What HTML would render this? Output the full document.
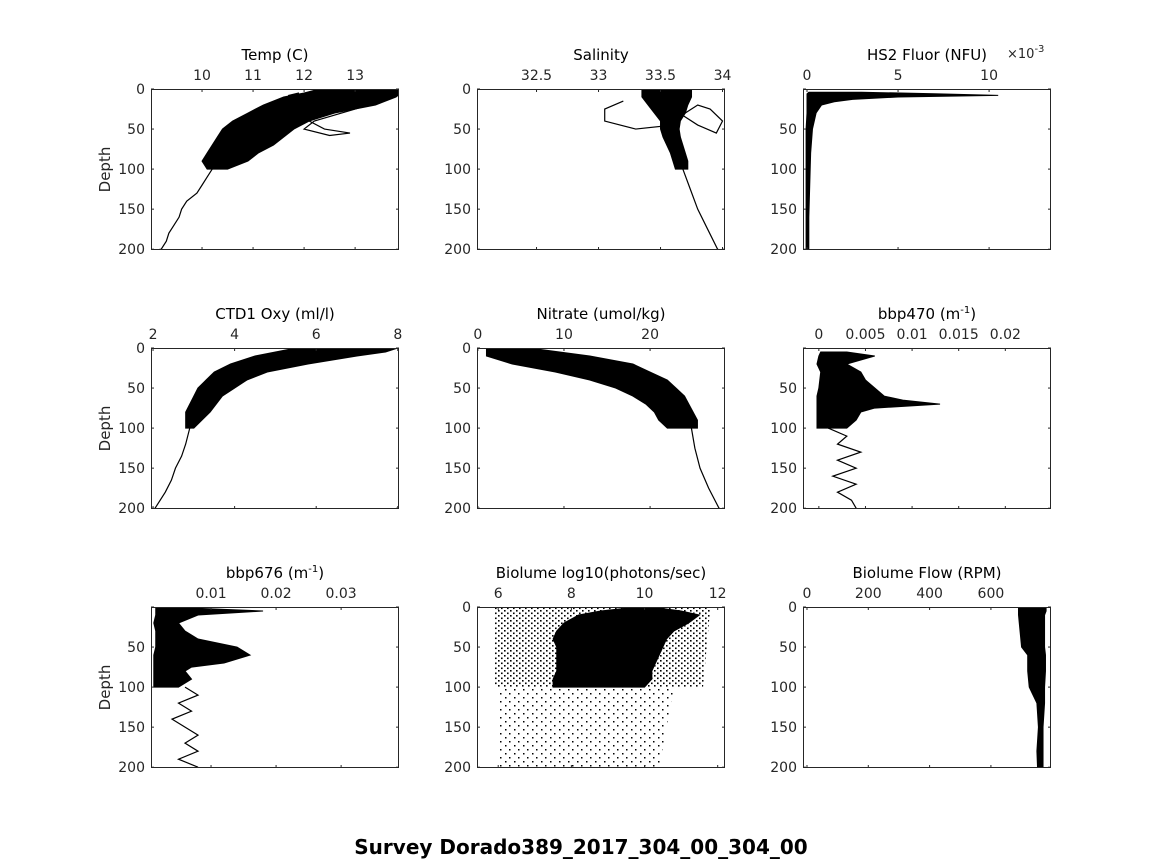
<!DOCTYPE html>
<html><head><meta charset="utf-8"><style>
html,body{margin:0;padding:0;background:#fff}
svg{display:block;font-family:"DejaVu Sans","Liberation Sans",sans-serif}
</style></head><body>
<svg id="fig" width="1164" height="864" viewBox="0 0 1164 864">
<defs>
<pattern id="sparse" width="6" height="5" patternUnits="userSpaceOnUse"><rect x="0" y="0" width="1.6" height="1.6" fill="#000"/><rect x="3" y="2.5" width="1.6" height="1.6" fill="#000"/></pattern>
<pattern id="vsparse" width="9" height="8" patternUnits="userSpaceOnUse"><rect x="1" y="1" width="1.5" height="1.5" fill="#000"/><rect x="5" y="5" width="1.5" height="1.5" fill="#000"/></pattern>
</defs>
<text x="581" y="854" text-anchor="middle" font-size="20" font-weight="bold">Survey Dorado389_2017_304_00_304_00</text>
</svg>
<script>
// ---- data arrays (depth in m, value in variable units) ----
const depthTicks=[0,50,100,150,200];
const tempTicks=[10,11,12,13];
const tempBandD=[0,5,10,20,30,40,50,60,70,80,90,100];
const tempBandLo=[12.3,12.0,11.6,11.2,10.9,10.6,10.4,10.3,10.2,10.1,10.0,10.1];
const tempBandHi=[13.9,13.9,13.8,13.4,12.6,12.1,11.8,11.6,11.4,11.1,10.9,10.5];
const tempLineD=[100,110,120,130,140,150,160,170,180,190,200,202];
const tempLineV=[10.2,10.1,10.0,9.9,9.7,9.6,9.55,9.45,9.35,9.3,9.2,9.0];
const tempLoopD=[5,8,20,40,50,55,58,50,40,25,15,10];
const tempLoopV=[11.9,11.7,11.8,12.1,12.4,12.9,12.5,12.0,12.2,13.0,13.5,13.6];
const salTicks=[32.5,33,33.5,34];
const salBandD=[0,10,20,30,40,50,60,70,80,90,100];
const salBandLo=[33.35,33.35,33.4,33.45,33.5,33.5,33.52,33.55,33.58,33.6,33.62];
const salBandHi=[33.75,33.75,33.72,33.7,33.66,33.65,33.66,33.68,33.7,33.72,33.72];
const salLineD=[100,125,150,175,200,202];
const salLineV=[33.68,33.74,33.8,33.88,33.96,33.99];
const salLoopD=[15,25,40,50,45,30,20,25,40,55,45,30];
const salLoopV=[33.2,33.05,33.05,33.3,33.6,33.7,33.8,33.9,34.0,33.95,33.8,33.65];
const fluTicks=[0,5,10];
const fluBandD=[4,6,8,10,13,16,20,30,50,80,120,160,200];
const fluBandLo=[0.1,0.0,0.0,0.0,0.0,0.0,0.0,0.0,-0.05,-0.05,-0.05,-0.05,-0.05];
const fluBandHi=[3.0,7.0,10.5,5.0,2.5,1.5,0.8,0.5,0.3,0.2,0.15,0.1,0.1];
const oxyTicks=[2,4,6,8];
const oxyBandD=[0,5,10,20,30,40,50,60,80,100];
const oxyBandLo=[5.5,5.0,4.5,3.9,3.5,3.3,3.1,3.0,2.8,2.8];
const oxyBandHi=[8.0,7.7,7.0,5.8,4.8,4.3,4.0,3.7,3.4,3.0];
const oxyLineD=[100,120,135,150,165,180,200,202];
const oxyLineV=[2.9,2.8,2.7,2.55,2.45,2.3,2.05,1.98];
const nitTicks=[0,10,20];
const nitBandD=[0,10,20,30,40,50,60,70,80,90,100];
const nitBandLo=[1,1,4,9,13,16,18,19.5,20.5,21,22];
const nitBandHi=[6,13,18,20,22,23,24,24.5,25,25.5,25.5];
const nitLineD=[100,125,150,175,200,202];
const nitLineV=[24.8,25.2,25.8,26.8,28.0,28.5];
const b470Ticks=[0,0.005,0.01,0.015,0.02];
const b470TickLbl=["0","0.005","0.01","0.015","0.02"];
const b470BandD=[5,10,20,30,40,50,60,65,70,75,80,90,100];
const b470BandLo=[0.0002,0.0,-0.0002,0.0002,0.0001,0.0,-0.0002,-0.0002,-0.0002,-0.0002,-0.0002,-0.0002,-0.0002];
const b470BandHi=[0.0030,0.0060,0.0030,0.0045,0.0050,0.0060,0.0070,0.0090,0.0130,0.0060,0.0045,0.0040,0.0030];
const b470LineD=[100,110,120,130,140,150,160,170,180,190,200];
const b470LineV=[0.0010,0.0030,0.0020,0.0045,0.0020,0.0040,0.0015,0.0040,0.0020,0.0035,0.0040];
const b676Ticks=[0.01,0.02,0.03];
const b676TickLbl=["0.01","0.02","0.03"];
const b676BandD=[0,5,10,20,30,40,50,60,70,75,80,90,100];
const b676BandLo=[0.0015,0.0015,0.0015,0.0012,0.0015,0.0015,0.0015,0.0012,0.0012,0.0012,0.0012,0.0012,0.0012];
const b676BandHi=[0.0030,0.0180,0.0080,0.0050,0.0060,0.0080,0.0140,0.0160,0.0120,0.0070,0.0060,0.0070,0.0050];
const b676LineD=[100,110,120,130,140,150,160,170,180,190,200];
const b676LineV=[0.006,0.008,0.005,0.007,0.004,0.006,0.008,0.006,0.008,0.005,0.008];
const bioTicks=[6,8,10,12];
const bioDenseD=[0,5,10,20,30,40,50,60,70,80,90,100];
const bioDenseLo=[9.8,8.8,8.2,7.8,7.6,7.5,7.6,7.6,7.6,7.6,7.5,7.5];
const bioDenseHi=[10.2,11.0,11.5,11.2,10.8,10.6,10.5,10.4,10.3,10.2,10.2,10.0];
const bioSparseD=[0,100];
const bioSparseLo=[5.9,5.9];
const bioSparseHi=[11.8,11.6];
const bioDeepD=[100,200];
const bioDeepLo=[6.0,6.0];
const bioDeepHi=[10.8,10.4];
const flowTicks=[0,200,400,600];
const flowBandD=[0,5,10,30,50,60,80,100,120,150,180,200];
const flowBandLo=[690,690,690,695,700,720,720,725,750,755,750,752];
const flowBandHi=[780,780,775,775,775,778,778,775,775,770,770,770];

const panels=[
 {name:'temp',col:0,row:0,xmin:9.0,xmax:13.86,ticks:tempTicks,title:'Temp (C)',zero:true,
  bands:[[tempBandD,tempBandLo,tempBandHi,'#000']],lines:[[tempLineD,tempLineV],[tempLoopD,tempLoopV]]},
 {name:'salinity',col:1,row:0,xmin:32.02,xmax:34.02,ticks:salTicks,title:'Salinity',zero:true,
  bands:[[salBandD,salBandLo,salBandHi,'#000']],lines:[[salLineD,salLineV],[salLoopD,salLoopV]]},
 {name:'hs2-fluor',col:2,row:0,xmin:-0.22,xmax:13.4,ticks:fluTicks,title:'HS2 Fluor (NFU)',zero:false,exp:true,
  bands:[[fluBandD,fluBandLo,fluBandHi,'#000']],lines:[]},
 {name:'oxygen',col:0,row:1,xmin:1.95,xmax:8.03,ticks:oxyTicks,title:'CTD1 Oxy (ml/l)',zero:true,
  bands:[[oxyBandD,oxyBandLo,oxyBandHi,'#000']],lines:[[oxyLineD,oxyLineV]]},
 {name:'nitrate',col:1,row:1,xmin:-0.1,xmax:28.7,ticks:nitTicks,title:'Nitrate (umol/kg)',zero:true,
  bands:[[nitBandD,nitBandLo,nitBandHi,'#000']],lines:[[nitLineD,nitLineV]]},
 {name:'bbp470',col:2,row:1,xmin:-0.0017,xmax:0.0249,ticks:b470Ticks,labels:b470TickLbl,title:'bbp470 (m<sup>-1</sup>)',zero:false,
  bands:[[b470BandD,b470BandLo,b470BandHi,'#000']],lines:[[b470LineD,b470LineV]]},
 {name:'bbp676',col:0,row:2,xmin:0.00077,xmax:0.0389,ticks:b676Ticks,labels:b676TickLbl,title:'bbp676 (m<sup>-1</sup>)',zero:false,
  bands:[[b676BandD,b676BandLo,b676BandHi,'#000']],lines:[[b676LineD,b676LineV]]},
 {name:'biolume',col:1,row:2,xmin:5.42,xmax:12.2,ticks:bioTicks,title:'Biolume log10(photons/sec)',zero:true,
  bands:[[bioSparseD,bioSparseLo,bioSparseHi,'url(#sparse)'],[bioDeepD,bioDeepLo,bioDeepHi,'url(#vsparse)'],[bioDenseD,bioDenseLo,bioDenseHi,'#000']],lines:[]},
 {name:'biolume-flow',col:2,row:2,xmin:-13,xmax:796,ticks:flowTicks,title:'Biolume Flow (RPM)',zero:true,
  bands:[[flowBandD,flowBandLo,flowBandHi,'#000']],lines:[]}
];
const colX=[151,477,803], rowY=[89,348,607], W=248, H=161, DMAX=201;
const NS='http://www.w3.org/2000/svg';
const svg=document.getElementById('fig');
function mk(tag,attrs,parent){const e=document.createElementNS(NS,tag);for(const k in attrs)e.setAttribute(k,attrs[k]);(parent||svg).appendChild(e);return e;}
panels.forEach(p=>{
  const x0=colX[p.col], y0=rowY[p.row];
  const sx=v=>x0+(v-p.xmin)/(p.xmax-p.xmin)*W;
  const sy=d=>y0+d/DMAX*H;
  const g=mk('g',{});
  
  
  const clip=mk('clipPath',{id:'c'+p.name},g);
  mk('rect',{x:x0,y:y0,width:W,height:H},clip);
  const dg=mk('g',{'clip-path':'url(#c'+p.name+')'},g);
  p.bands.forEach(b=>{
    const [D,L,Hh,fill]=b;
    const pts=[];
    D.forEach((d,i)=>pts.push(sx(L[i])+','+sy(d)));
    for(let i=D.length-1;i>=0;i--)pts.push(sx(Hh[i])+','+sy(D[i]));
    const poly=mk('polygon',{points:pts.join(' '),fill:fill,stroke:fill==='#000'?'#000':'none','stroke-width':1},dg);
    
    
  });
  p.lines.forEach(l=>{
    const [D,V]=l;
    const pl=mk('polyline',{points:D.map((d,i)=>sx(V[i])+','+sy(d)).join(' '),fill:'none',stroke:'#000','stroke-width':1.2},dg);
    
    
  });
  const box=mk('rect',{x:x0+0.5,y:y0+0.5,width:W-1,height:H-1,fill:'none',stroke:'#262626','stroke-width':1},g);
  
  
  p.ticks.forEach((t,i)=>{
    const x=sx(t);
    mk('line',{x1:x,x2:x,y1:y0,y2:y0+3,stroke:'#262626'},g);
    mk('line',{x1:x,x2:x,y1:y0+H,y2:y0+H-3,stroke:'#262626'},g);
    const tx=mk('text',{x:x,y:y0-9,'text-anchor':'middle','font-size':14,fill:'#262626'},g);
    tx.textContent=p.labels?p.labels[i]:String(t);
    
    
  });
  depthTicks.forEach(d=>{
    const y=sy(d);
    mk('line',{x1:x0,x2:x0+3,y1:y,y2:y,stroke:'#262626'},g);
    mk('line',{x1:x0+W,x2:x0+W-3,y1:y,y2:y,stroke:'#262626'},g);
    if(d===0&&!p.zero)return;
    const ty=mk('text',{x:x0-6,y:y+5,'text-anchor':'end','font-size':14,fill:'#262626'},g);
    ty.textContent=String(d);
    
    
  });
  const tt=mk('text',{x:x0+W/2,y:y0-29,'text-anchor':'middle','font-size':15,fill:'#000'},g);
  tt.innerHTML=p.title.replace('<sup>','<tspan dy="-6" font-size="10">').replace('</sup>','</tspan><tspan dy="6">');
  
  
  if(p.exp){
    const ex=mk('text',{x:x0+W-44,y:y0-31,'font-size':13,fill:'#262626'},g);
    ex.innerHTML='×10<tspan dy="-6" font-size="10">-3</tspan>';
    
    
  }
  if(p.col===0){
    const yl=mk('text',{x:0,y:0,'text-anchor':'middle','font-size':15,fill:'#262626',transform:'translate(110,'+(y0+H/2)+') rotate(-90)'},g);
    yl.textContent='Depth';
    
    
  }
});
</script>
</body></html>
